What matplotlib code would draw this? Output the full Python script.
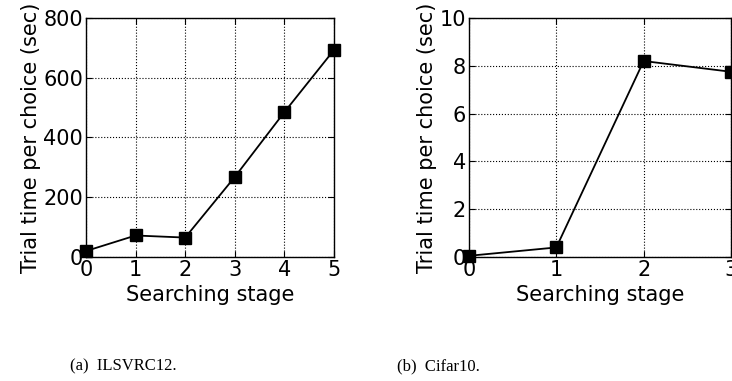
import matplotlib
matplotlib.use('Agg')
import matplotlib.pyplot as plt

# ILSVRC12
stages_a = [0, 1, 2, 3, 4, 5]
time_a = [20, 72, 65, 268, 485, 693]

# Cifar10
stages_b = [0, 1, 2, 3]
time_b = [0.05, 0.4, 8.2, 7.75]

fig = plt.figure(figsize=(7.32, 3.81), dpi=100)
W, H = 732, 381

ax1 = fig.add_axes([86 / W, 1 - 257 / H, (334 - 86) / W, (257 - 18) / H])
ax2 = fig.add_axes([469 / W, 1 - 257 / H, (731 - 469) / W, (257 - 18) / H])

for ax, x, y, xmax, ymax, yticks in [
    (ax1, stages_a, time_a, 5, 800, [0, 200, 400, 600, 800]),
    (ax2, stages_b, time_b, 3, 10, [0, 2, 4, 6, 8, 10]),
]:
    ax.plot(x, y, color='black', linewidth=1.3, marker='s', markersize=8, clip_on=False, zorder=3)
    ax.set_xlim(0, xmax)
    ax.set_ylim(0, ymax)
    ax.set_xticks(range(xmax + 1))
    ax.set_yticks(yticks)
    ax.grid(True, color='black', linestyle=':', linewidth=0.8)
    ax.tick_params(direction='in', top=True, right=True, labelsize=15, length=4, pad=2)
    for s in ax.spines.values():
        s.set_linewidth(1.0)
    ax.set_xlabel('Searching stage', fontsize=15, labelpad=4)
    ax.set_ylabel('Trial time per choice (sec)', fontsize=15, labelpad=2)

fig.text(123 / W, 1 - 366 / H, '(a)  ILSVRC12.', ha='center', va='center',
         family='Liberation Serif', fontsize=12)
fig.text(438 / W, 1 - 366 / H, '(b)  Cifar10.', ha='center', va='center',
         family='Liberation Serif', fontsize=12)

fig.savefig('out.png', dpi=100)
